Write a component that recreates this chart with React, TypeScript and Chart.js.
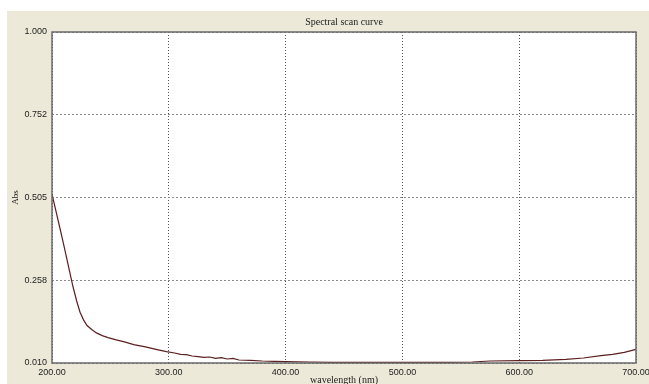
import React, { useEffect, useRef } from "react";
import { Chart, registerables } from "chart.js";

Chart.register(...registerables);

const wavelengths = [
  200, 203, 206, 209, 212, 215, 218, 221, 224, 227, 230, 234, 238, 243, 248, 255, 262, 270, 280, 290,
  298, 305, 310, 315, 320, 325, 330, 335, 340, 345, 350, 355, 360, 370, 380, 390, 400, 420, 440, 460,
  480, 500, 520, 540, 560, 575, 600, 620, 640, 655, 670, 680, 690, 700,
];
const absorbance = [
  0.515, 0.47, 0.425, 0.38, 0.333, 0.285, 0.238, 0.197, 0.162, 0.139, 0.122, 0.11, 0.1, 0.092, 0.086,
  0.079, 0.073, 0.065, 0.058, 0.05, 0.044, 0.04, 0.036, 0.035, 0.031, 0.029, 0.027, 0.028, 0.024, 0.026,
  0.022, 0.024, 0.019, 0.018, 0.016, 0.015, 0.014, 0.013, 0.012, 0.012, 0.012, 0.012, 0.012, 0.012, 0.013,
  0.016, 0.017, 0.018, 0.021, 0.025, 0.032, 0.036, 0.042, 0.051,
];
const yTicks = [0.01, 0.258, 0.505, 0.752, 1.0];
const yTickLabels = ["0.010", "0.258", "0.505", "0.752", "1.000"];
const xTicks = [200, 300, 400, 500, 600, 700];
const titleText = "Spectral scan curve";
const xTitle = "wavelength (nm)";
const yTitle = "Abs";

const framePlugin = {
  id: "frame",
  beforeDraw(chart: any) {
    const { ctx, chartArea: a, width, height } = chart;
    ctx.save();
    ctx.fillStyle = "#ffffff";
    ctx.fillRect(0, 0, width, height);
    ctx.fillStyle = "#ECE9D8";
    ctx.fillRect(7, 11, width - 7, height - 11);
    ctx.fillStyle = "#ffffff";
    ctx.fillRect(a.left, a.top, a.right - a.left, a.bottom - a.top);
    ctx.restore();
  },
  afterDraw(chart: any) {
    const { ctx, chartArea: a } = chart;
    ctx.save();
    ctx.strokeStyle = "#6a6a6a";
    ctx.lineWidth = 1.5;
    ctx.strokeRect(a.left, a.top, a.right - a.left, a.bottom - a.top);
    ctx.restore();
  },
};

export default function App() {
  const ref = useRef<HTMLCanvasElement>(null);
  useEffect(() => {
    document.body.style.margin = "0";
    const chart = new Chart(ref.current!, {
      type: "line",
      data: {
        datasets: [
          {
            data: wavelengths.map((w, i) => ({ x: w, y: absorbance[i] })),
            borderColor: "#5b1f1f",
            borderWidth: 1.2,
            pointRadius: 0,
            tension: 0,
            fill: false,
          },
        ],
      },
      options: {
        animation: false,
        responsive: false,
        layout: { padding: { left: 0, top: 0, right: 13, bottom: 0 } },
        plugins: {
          legend: { display: false },
          tooltip: { enabled: false },
          title: {
            display: true,
            text: titleText,
            fullSize: false,
            color: "#222",
            font: { family: "'Liberation Serif', serif", size: 10, weight: "normal", lineHeight: 1.2 },
            padding: { top: 16, bottom: 4 },
          },
        },
        scales: {
          x: {
            type: "linear",
            min: 200,
            max: 700,
            afterBuildTicks: (s: any) => {
              s.ticks = xTicks.map((v) => ({ value: v }));
            },
            afterFit: (s: any) => {
              s.height = 21;
              s.paddingLeft = 0;
              s.paddingRight = 0;
            },
            ticks: {
              autoSkip: false,
              maxRotation: 0,
              padding: 4,
              color: "#222",
              font: { family: "'Liberation Sans', sans-serif", size: 9 },
              callback: (v: any) => Number(v).toFixed(2),
            },
            grid: { color: "#555", drawTicks: false, lineWidth: 1 },
            border: { display: false, dash: [1, 2] },
            title: {
              display: true,
              text: xTitle,
              color: "#222",
              font: { family: "'Liberation Serif', serif", size: 10, lineHeight: 1 },
              padding: { top: 0, bottom: -1 },
            },
          },
          y: {
            type: "linear",
            min: 0.01,
            max: 1.0,
            afterBuildTicks: (s: any) => {
              s.ticks = yTicks.map((v) => ({ value: v }));
            },
            afterFit: (s: any) => {
              s.width = 52;
              s.paddingTop = 0;
              s.paddingBottom = 0;
            },
            ticks: {
              autoSkip: false,
              padding: 5,
              color: "#222",
              font: { family: "'Liberation Sans', sans-serif", size: 9 },
              callback: (_v: any, i: number) => yTickLabels[i],
            },
            grid: { color: "#8a8a8a", drawTicks: false, lineWidth: 1 },
            border: { display: false, dash: [2, 2] },
            title: {
              display: true,
              text: yTitle,
              color: "#222",
              font: { family: "'Liberation Serif', serif", size: 9, lineHeight: 1.2 },
              padding: { top: 10.5, bottom: 0 },
            },
          },
        },
      },
      plugins: [framePlugin],
    } as any);
    return () => chart.destroy();
  }, []);
  return <canvas ref={ref} width={649} height={384} style={{ display: "block", width: 649, height: 384 }} />;
}
